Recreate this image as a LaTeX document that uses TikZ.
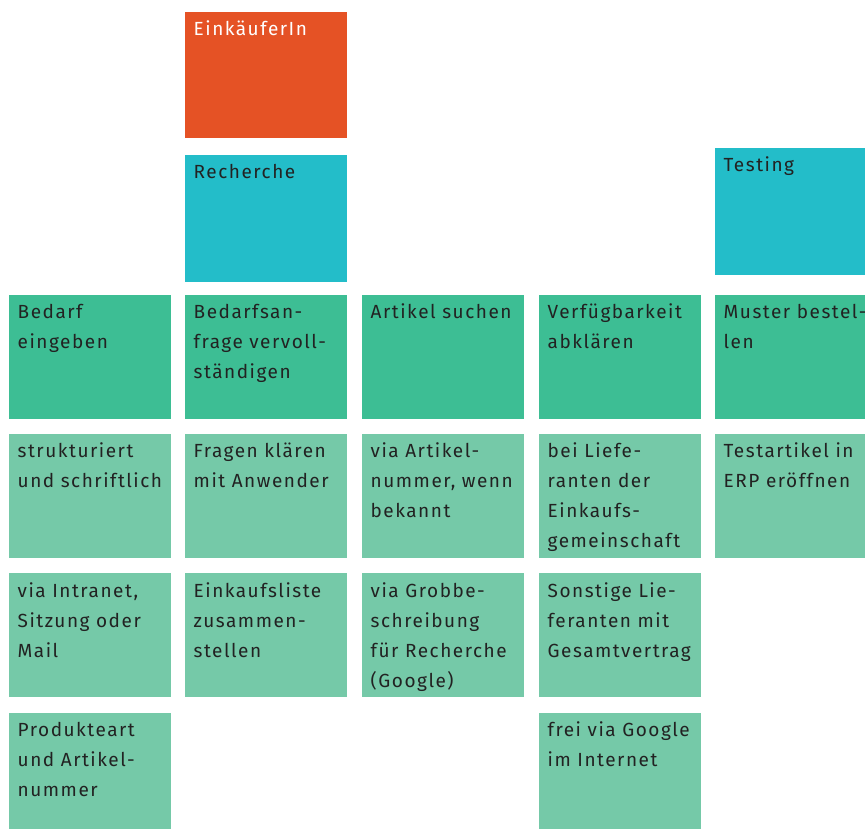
\documentclass[tikz,border=0pt]{standalone}
\usepackage{fontspec}
\setmainfont{Fira Sans}[LetterSpace=8]
\definecolor{role}{HTML}{E55225}
\definecolor{phase}{HTML}{23BDC9}
\definecolor{step}{HTML}{3DBE94}
\definecolor{detail}{HTML}{75C9A8}
\definecolor{ink}{HTML}{222222}
\tikzset{
  cellbox/.style={anchor=north west, inner sep=0pt, outer sep=0pt, draw=none},
  celltext/.style={anchor=north west, inner sep=0pt, align=left, text=ink,
    font=\fontsize{19}{30}\selectfont},
}
% \cell{name}{fill}{x}{y}{width}{height}{text}
\newcommand\cell[7]{%
  \node[cellbox, fill=#2, minimum width=#5pt, minimum height=#6pt] (#1) at (#3,#4) {};
  \node[celltext] (#1-t) at ([xshift=8.5pt]#1.north west) {\rule{0pt}{23.5pt}#7};
}
\begin{document}
\begin{tikzpicture}[x=1pt, y=-1pt]
  \useasboundingbox (0,0) rectangle (865,829);
  % role, set in white
  \node[cellbox, fill=role, minimum width=162pt, minimum height=126pt] (role) at (185,12) {};
  \node[celltext, text=white] (role-t) at ([xshift=8.5pt]role.north west) {\rule{0pt}{23.5pt}EinkäuferIn};
  % phases
  \cell{research}{phase}{185}{155}{162}{127}{Recherche}
  \cell{testing}{phase}{715}{148}{150}{127}{Testing}
  % main steps
  \cell{s1}{step}{9}{295}{162}{123.5}{Bedarf\\eingeben}
  \cell{s2}{step}{185}{295}{162}{123.5}{Bedarfsan-\\frage vervoll-\\ständigen}
  \cell{s3}{step}{362}{295}{162}{123.5}{Artikel suchen}
  \cell{s4}{step}{539}{295}{162}{123.5}{Verfügbarkeit\\abklären}
  \cell{s5}{step}{715}{295}{150}{123.5}{Muster bestel-\\len}
  % details, second row
  \cell{d11}{detail}{9}{434}{162}{123.5}{strukturiert\\und schriftlich}
  \cell{d21}{detail}{185}{434}{162}{123.5}{Fragen klären\\mit Anwender}
  \cell{d31}{detail}{362}{434}{162}{123.5}{via Artikel-\\nummer, wenn\\bekannt}
  \cell{d41}{detail}{539}{434}{162}{123.5}{bei Liefe-\\ranten der\\Einkaufs-\\gemeinschaft}
  \cell{d51}{detail}{715}{434}{150}{123.5}{Testartikel in\\ERP eröffnen}
  % details, third row
  \cell{d12}{detail}{9}{573.3}{162}{123.5}{via Intranet,\\Sitzung oder\\Mail}
  \cell{d22}{detail}{185}{573.3}{162}{123.5}{Einkaufsliste\\zusammen-\\stellen}
  \cell{d32}{detail}{362}{573.3}{162}{123.5}{via Grobbe-\\schreibung\\für Recherche\\(Google)}
  \cell{d42}{detail}{539}{573.3}{162}{123.5}{Sonstige Lie-\\feranten mit\\Gesamtvertrag}
  % details, fourth row
  \cell{d13}{detail}{9}{713}{162}{116}{Produkteart\\und Artikel-\\nummer}
  \cell{d43}{detail}{539}{713}{162}{116}{frei via Google\\im Internet}
\end{tikzpicture}
\end{document}
